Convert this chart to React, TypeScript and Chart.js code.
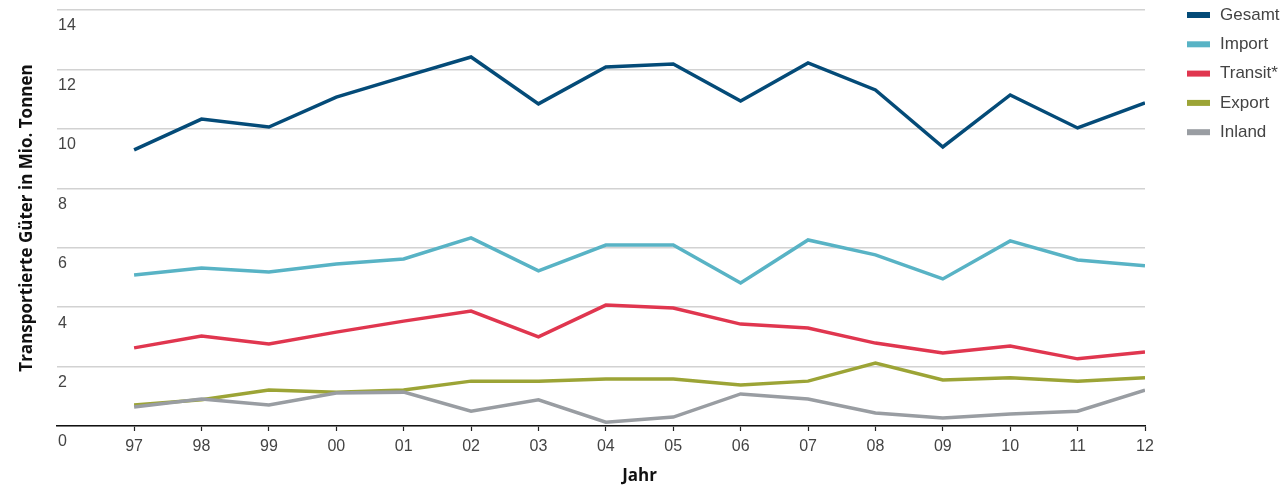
import React, { useEffect, useRef } from "react";
import { Chart, registerables } from "chart.js";

Chart.register(...registerables);

const years = ["97", "98", "99", "00", "01", "02", "03", "04", "05", "06", "07", "08", "09", "10", "11", "12"];
const gesamt = [9.29, 10.33, 10.06, 11.07, 11.75, 12.42, 10.84, 12.08, 12.18, 10.94, 12.22, 11.31, 9.39, 11.14, 10.03, 10.87];
const importVals = [5.08, 5.32, 5.18, 5.45, 5.62, 6.33, 5.22, 6.09, 6.09, 4.81, 6.26, 5.76, 4.95, 6.23, 5.59, 5.39];
const transit = [2.63, 3.03, 2.76, 3.16, 3.53, 3.87, 3.0, 4.07, 3.97, 3.43, 3.3, 2.79, 2.46, 2.69, 2.26, 2.49];
const exportVals = [0.71, 0.88, 1.21, 1.14, 1.21, 1.51, 1.51, 1.58, 1.58, 1.38, 1.51, 2.12, 1.55, 1.62, 1.51, 1.62];
const inland = [0.64, 0.91, 0.71, 1.11, 1.14, 0.5, 0.88, 0.13, 0.3, 1.08, 0.91, 0.44, 0.27, 0.4, 0.5, 1.21];

const seriesNames = ["Gesamt", "Import", "Transit*", "Export", "Inland"];
const seriesValues = [gesamt, importVals, transit, exportVals, inland];
const seriesColors = ["#044b78", "#58b3c5", "#e0364f", "#9ca436", "#999da2"];

const yTitle = "Transportierte Güter in Mio. Tonnen";
const xTitle = "Jahr";

const TICK_FONT = '"Liberation Sans", Arial, sans-serif';
const TITLE_FONT = '"Open Sans", "Liberation Sans", Arial, sans-serif';

const sideLegend = {
  id: "sideLegend",
  afterDraw(chart: any) {
    const ctx = chart.ctx;
    const area = chart.chartArea;
    const xs = chart.scales.x;
    ctx.save();
    // legend
    const x0 = area.right + 42;
    ctx.font = `17px ${TICK_FONT}`;
    ctx.textBaseline = "middle";
    ctx.textAlign = "left";
    chart.data.datasets.forEach((ds: any, i: number) => {
      const cy = 15 + i * 29.3;
      ctx.fillStyle = ds.borderColor;
      ctx.fillRect(x0, cy - 3, 23, 6);
      ctx.fillStyle = "#444444";
      ctx.fillText(ds.label, x0 + 33, cy);
    });
    // x title
    const cx = (xs.getPixelForValue(0) + xs.getPixelForValue(years.length - 1)) / 2;
    ctx.font = `bold 17px ${TITLE_FONT}`;
    ctx.fillStyle = "#111111";
    ctx.textAlign = "center";
    ctx.textBaseline = "middle";
    ctx.fillText(xTitle, cx, 476);
    ctx.restore();
  },
};

export default function App() {
  const ref = useRef<HTMLCanvasElement | null>(null);

  useEffect(() => {
    document.body.style.margin = "0";
    const canvas = ref.current;
    if (!canvas) return;
    const datasets = seriesNames.map((name, si) => ({
      label: name,
      data: seriesValues[si].map((v, i) => ({ x: i, y: v })),
      borderColor: seriesColors[si],
      backgroundColor: seriesColors[si],
      borderWidth: 3.5,
      pointRadius: 0,
      pointHoverRadius: 0,
      tension: 0,
      fill: false,
      order: seriesNames.length - 1 - si,
    }));

    const chart = new Chart(canvas, {
      type: "line",
      data: { datasets },
      plugins: [sideLegend],
      options: {
        animation: false,
        responsive: false,
        maintainAspectRatio: false,
        layout: { padding: { top: 10, right: 137, bottom: 0, left: 0 } },
        plugins: {
          legend: { display: false },
          tooltip: { enabled: false },
        },
        scales: {
          x: {
            type: "linear",
            min: -1.144,
            max: years.length - 1,
            afterBuildTicks: (scale: any) => {
              scale.ticks = years.map((_, i) => ({ value: i }));
            },
            afterFit: (scale: any) => {
              scale.height = 61;
              scale.paddingLeft = 0;
              scale.paddingRight = 0;
            },
            grid: {
              drawOnChartArea: false,
              drawTicks: true,
              tickLength: 5,
              tickColor: "#222222",
              tickWidth: 1.2,
            },
            border: { display: true, color: "#111111", width: 1.5 },
            ticks: {
              autoSkip: false,
              maxRotation: 0,
              padding: 6,
              color: "#444444",
              font: { family: TICK_FONT, size: 16 },
              callback: (v: any) => years[Math.round(Number(v))] ?? "",
            },
          },
          y: {
            type: "linear",
            min: 0,
            max: 14,
            afterFit: (scale: any) => {
              scale.width = 57;
              scale.paddingTop = 0;
              scale.paddingBottom = 0;
            },
            grid: {
              color: "#d2d2d2",
              lineWidth: 1.5,
              drawTicks: false,
              tickLength: 0,
            },
            border: { display: false },
            ticks: {
              stepSize: 2,
              mirror: true,
              padding: 1,
              labelOffset: 16,
              color: "#444444",
              font: { family: TICK_FONT, size: 16 },
            },
            title: {
              display: true,
              text: yTitle,
              color: "#111111",
              font: { family: TITLE_FONT, size: 17, weight: "bold" },
              padding: { top: 17, bottom: 0 },
            },
          },
        },
      },
    } as any);
    return () => chart.destroy();
  }, []);

  return (
    <div style={{ width: 1282, height: 487 }}>
      <canvas ref={ref} width={1282} height={487} style={{ display: "block", width: 1282, height: 487 }} />
    </div>
  );
}
